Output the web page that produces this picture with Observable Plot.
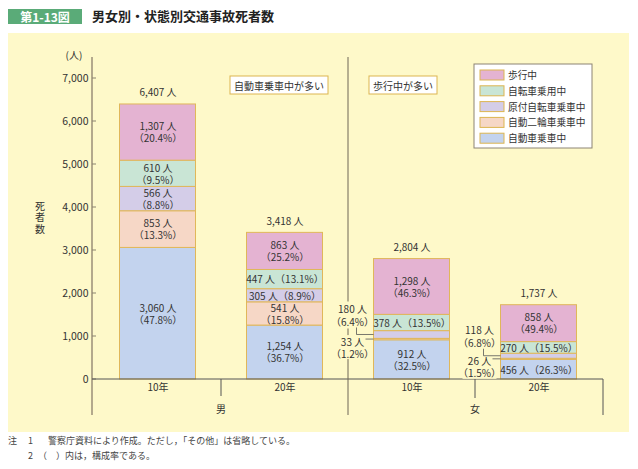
<!DOCTYPE html>
<html><head><meta charset="utf-8">
<script src="https://cdn.jsdelivr.net/npm/d3@7"></script>
<script src="https://cdn.jsdelivr.net/npm/@observablehq/plot@0.6"></script>
<style>
body{margin:0;background:#fff;font-family:"Noto Sans CJK JP","Noto Sans",sans-serif;width:638px;height:469px;position:relative;overflow:hidden}
#tag{position:absolute;left:8px;top:9px;width:74px;height:15px;background:#5aab78;color:#fff;font-size:12px;line-height:15px;text-align:center;font-weight:bold}
#title{position:absolute;left:92px;top:6px;font-size:13px;line-height:19px;color:#222;font-weight:bold}
#chart{position:absolute;left:8px;top:33px}
.note{position:absolute;font-size:9px;color:#444;line-height:12px;white-space:nowrap}
</style></head>
<body>
<div id="tag">第1-13図</div>
<div id="title">男女別・状態別交通事故死者数</div>
<div id="chart"></div>
<div class="note" style="left:8px;top:435px">注</div>
<div class="note" style="left:28px;top:435px">1</div>
<div class="note" style="left:48px;top:435px">警察庁資料により作成。ただし，「その他」は省略している。</div>
<div class="note" style="left:28px;top:450px">2</div>
<div class="note" style="left:38px;top:450px">（　）内は，構成率である。</div>
<script>
const FONT = '"Noto Sans CJK JP","Noto Sans",sans-serif';
const keys = ["男10年", "男20年", "女10年", "女20年"];
const years = ["10年", "20年", "10年", "20年"];
const groupNames = ["男", "女"];
const types = ["自動車乗車中", "自動二輪車乗車中", "原付自転車乗車中", "自転車乗用中", "歩行中"];
const colors = ["#c3d3ee", "#f6d7c6", "#d4cde8", "#c9e5d5", "#e4b3d2"];
const totals = [6407, 3418, 2804, 1737];
const car = [3060, 1254, 912, 456];
const moto = [853, 541, 33, 26];
const moped = [566, 305, 180, 118];
const bike = [610, 447, 378, 270];
const walk = [1307, 863, 1298, 858];
const carPct = [47.8, 36.7, 32.5, 26.3];
const motoPct = [13.3, 15.8, 1.2, 1.5];
const mopedPct = [8.8, 8.9, 6.4, 6.8];
const bikePct = [9.5, 13.1, 13.5, 15.5];
const walkPct = [20.4, 25.2, 46.3, 49.4];
// label layout: "2" two lines inside, "1" one line inside, "out" outside with leader
const carStyle = ["2", "2", "2", "1"];
const motoStyle = ["2", "2", "out", "out"];
const mopedStyle = ["2", "1", "out", "out"];
const bikeStyle = ["2", "1", "1", "1"];
const walkStyle = ["2", "2", "2", "2"];
const yTicks = [0, 1000, 2000, 3000, 4000, 5000, 6000, 7000];
const notes = [{text: "自動車乗車中が多い", side: "left"}, {text: "歩行中が多い", side: "right"}];

const fmt = d3.format(",");
const series = [[car, carPct, carStyle], [moto, motoPct, motoStyle], [moped, mopedPct, mopedStyle], [bike, bikePct, bikeStyle], [walk, walkPct, walkStyle]];
const rows = [];
keys.forEach((key, i) => {
  let acc = 0;
  series.forEach(([vals, pcts, styles], j) => {
    const v = vals[i], y1 = acc, y2 = acc + v;
    acc = y2;
    const n = `${fmt(v)} 人`, p = `（${pcts[i].toFixed(1)}%）`;
    rows.push({key, type: types[j], j, value: v, y1, y2, mid: (y1 + y2) / 2, style: styles[i],
      label: styles[i] === "2" ? `${n}\n${p}` : `${n}${p}`, n, p});
  });
});
const totalRows = keys.map((key, i) => ({key, total: totals[i]}));
const INSET = 25.5;

function overlay(index, scales, values, dim) {
  const x = scales.x, y = scales.y;
  const L = dim.marginLeft, R = dim.width - dim.marginRight, T = dim.marginTop, B = dim.height - dim.marginBottom;
  const g = d3.create("svg:g").attr("font-family", FONT).attr("fill", "#333").attr("font-size", 10);
  const line = (x1, y1, x2, y2, stroke, w) => g.append("line").attr("x1", x1).attr("y1", y1).attr("x2", x2).attr("y2", y2).attr("stroke", stroke).attr("stroke-width", w);
  const text = (tx, ty, s, anchor = "middle", size = 10) => g.append("text").attr("x", tx).attr("y", ty).attr("text-anchor", anchor).attr("dominant-baseline", "central").attr("font-size", size).text(s);
  const axisTop = T - 21, axisBottom = dim.height - 17;
  // axes and separators
  line(L, axisTop, L, axisBottom, "#b3a98c", 2);
  yTicks.forEach(t => line(L, y(t), L + 4, y(t), "#8b836f", 1));
  line(L, B, R, B, "#555", 1);
  const sep = x(keys[2]);
  line(sep, axisTop, sep, axisBottom, "#6e6656", 1);
  line(x(keys[1]), B, x(keys[1]), B + 17, "#555", 1);
  line(x(keys[3]), B, x(keys[3]), B + 19, "#555", 1);
  line(R, B, R, axisBottom, "#555", 1);
  groupNames.forEach((name, k) => text(x(keys[k * 2 + 1]), B + 29, name));
  // y unit and title
  text(L - 18, axisTop - 3, "(人)");
  g.append("text").attr("x", L - 52).attr("y", T + 123).attr("writing-mode", "vertical-rl")
    .attr("text-anchor", "start").attr("letter-spacing", 1.5).attr("font-size", 10).text("死者数");
  // notes
  notes.forEach(nt => {
    const w = nt.text.length * 10 + 8, h = 18;
    const x0 = nt.side === "left" ? sep - 20 - w : sep + 21;
    g.append("rect").attr("x", x0).attr("y", T - 2).attr("width", w).attr("height", h).attr("fill", "#fff").attr("stroke", "#dcb550").attr("stroke-width", 1);
    text(x0 + w / 2, T - 2 + h / 2, nt.text);
  });
  // outside labels with leaders
  const outs = rows.filter(r => r.style === "out");
  outs.forEach(r => {
    const xl = x(r.key) + INSET, cx = xl - 21;
    const top = r.j === 2;
    g.append("rect").attr("x", cx - 17).attr("y", top ? y(r.mid) - 33 : y(r.mid) - 4).attr("width", 34).attr("height", top ? 27 : 24).attr("fill", "#fef9c9");
  });
  outs.forEach(r => {
    const xl = x(r.key) + INSET, cx = xl - 21, ym = y(r.mid);
    const top = r.j === 2;
    const d = top ? `M${xl},${ym}H${cx + 4}V${ym - 7}` : `M${xl},${ym}H${cx + 13}`;
    g.append("path").attr("d", d).attr("fill", "none").attr("stroke", "#555").attr("stroke-width", 0.8);
    text(cx, top ? ym - 26 : ym + 2, r.n);
    text(cx, top ? ym - 13 : ym + 14, r.p);
  });
  // legend
  const lx = R - 129, ly = T - 14;
  g.append("rect").attr("x", lx).attr("y", ly).attr("width", 118).attr("height", 84).attr("fill", "#fff").attr("stroke", "#8c8474").attr("stroke-width", 1);
  types.slice().reverse().forEach((t, k) => {
    const cy = ly + 11 + k * 15.8;
    g.append("rect").attr("x", lx + 6).attr("y", cy - 5).attr("width", 24).attr("height", 10).attr("fill", colors[types.indexOf(t)]).attr("stroke", "#dcb550").attr("stroke-width", 1);
    text(lx + 34, cy, t, "start", 9.7);
  });
  return g.node();
}

const plot = Plot.plot({
  width: 621, height: 399,
  marginLeft: 84, marginRight: 26, marginTop: 45, marginBottom: 53,
  style: {background: "#fef9c9", fontFamily: FONT, fontSize: "10px", color: "#333"},
  x: {domain: keys, padding: 0},
  y: {domain: [0, 7000]},
  color: {domain: types, range: colors},
  marks: [
    Plot.axisY({ticks: yTicks, tickFormat: fmt, tickSize: 0, tickPadding: 4, fontSize: 10.5, label: null}),
    Plot.axisX({tickSize: 0, tickPadding: 4, tickFormat: (d) => years[keys.indexOf(d)], fontSize: 10, label: null}),
    Plot.barY(rows, {x: "key", y1: "y1", y2: "y2", fill: "type", stroke: "#e0b75a", strokeWidth: 1, insetLeft: INSET, insetRight: INSET}),
    Plot.text(rows.filter(r => r.style !== "out"), {x: "key", y: "mid", text: "label", lineHeight: 1.2, fontSize: 10, fill: "#333"}),
    Plot.text(totalRows, {x: "key", y: "total", text: d => `${fmt(d.total)} 人`, dy: -11, fontSize: 10, fill: "#333"}),
    overlay
  ]
});
document.getElementById("chart").appendChild(plot);
</script>
</body></html>
